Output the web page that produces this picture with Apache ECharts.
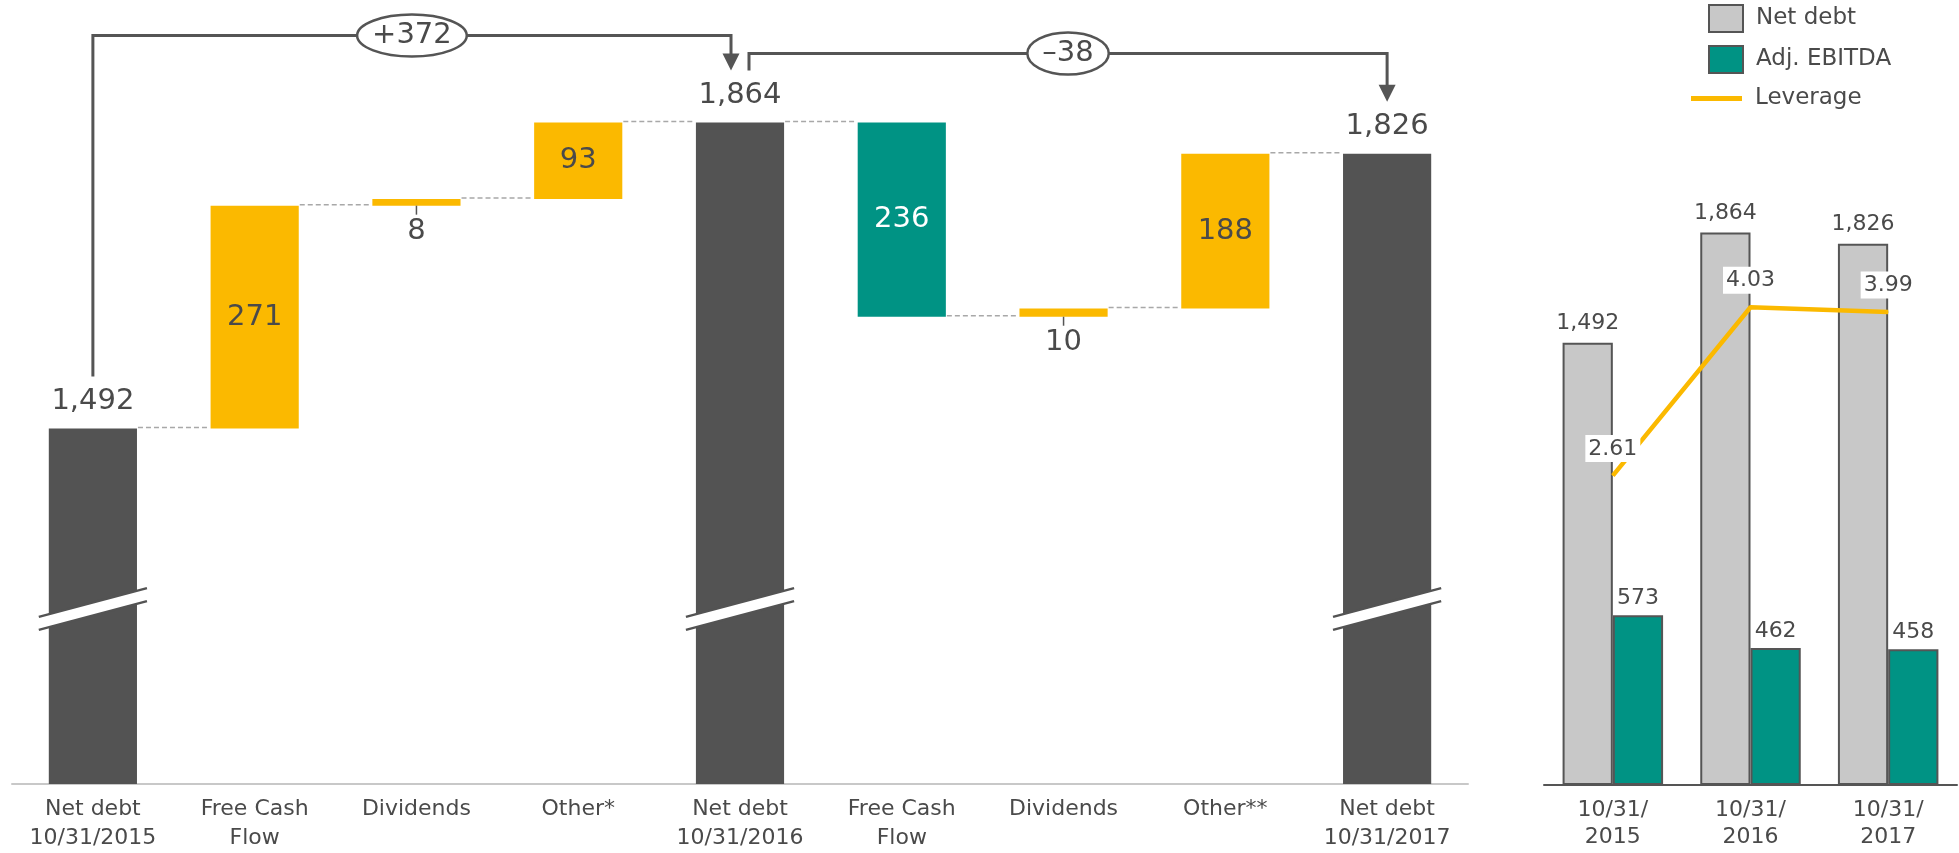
<!DOCTYPE html>
<html><head><meta charset="utf-8">
<script src="https://cdn.jsdelivr.net/npm/echarts@6/dist/echarts.min.js"></script>
<style>html,body{margin:0;padding:0;background:#fff}#c{width:1959px;height:853px}</style>
</head><body><div id="c"></div>
<script>
// ---------- data ----------
const categories = ['Net debt\n10/31/2015','Free Cash\nFlow','Dividends','Other*','Net debt\n10/31/2016','Free Cash\nFlow','Dividends','Other**','Net debt\n10/31/2017'];
const netDebtTotals = [1492, 1864, 1826];
const changesFY2016 = [271, 8, 93];
const changesFY2017 = [-236, 10, 188];
const periodChanges = ['+372', '–38'];

const summaryCategories = ['10/31/\n2015','10/31/\n2016','10/31/\n2017'];
const netDebt = [1492, 1864, 1826];
const adjEbitda = [573, 462, 458];
const leverage = [2.61, 4.03, 3.99];

// ---------- styles ----------
const DARK = '#535353', YELLOW = '#fbb900', TEAL = '#009384', TXT = '#4a4a4a', FONT = 'DejaVu Sans';
const AXIS_MIN = 1060, AXIS_MAX = 2013;
const BAR_FRAC = 0.545;

// ---------- derived waterfall ----------
const seq = [netDebtTotals[0], ...changesFY2016, netDebtTotals[1], ...changesFY2017, netDebtTotals[2]];
const isTotal = categories.map(c => c.indexOf('Net debt') === 0);
let run = 0;
const levels = [];
const wfData = seq.map((v, i) => {
  if (isTotal[i]) { run = v; levels.push(run); return [i, AXIS_MIN, v, 0, v]; }
  const s = run; run += v; levels.push(run);
  return [i, Math.min(s, run), Math.max(s, run), v > 0 ? 1 : 2, Math.abs(v)];
});
const connData = levels.slice(0, -1).map((l, i) => [i, l]);
const totalIdx = isTotal.map((t, i) => t ? i : -1).filter(i => i >= 0);
const breakData = totalIdx.map(i => [i, AXIS_MIN]);
const bracketData = [];
for (let k = 0; k < totalIdx.length - 1; k++) {
  bracketData.push([totalIdx[k], totalIdx[k + 1], netDebtTotals[k], netDebtTotals[k + 1]]);
}
const fmt = v => Number(v).toLocaleString('en-US');

const measure = (() => { const c = document.createElement('canvas').getContext('2d');
  return (t, f) => { c.font = f; return c.measureText(t).width; }; })();

function renderWaterfall(params, api) {
  const i = api.value(0), lo = api.value(1), hi = api.value(2), kind = api.value(3), lab = api.value(4);
  const bw = api.size([1, 0])[0] * BAR_FRAC;
  const pT = api.coord([i, hi]), pB = api.coord([i, lo]);
  const h = pB[1] - pT[1];
  const fill = kind === 0 ? DARK : (kind === 1 ? YELLOW : TEAL);
  const ch = [{ type: 'rect', shape: { x: pT[0] - bw / 2, y: pT[1], width: bw, height: h }, style: { fill } }];
  const ts = { fontFamily: FONT, fontSize: 29, fill: TXT, align: 'center', verticalAlign: 'middle' };
  if (kind === 0) {
    ch.push({ type: 'text', x: pT[0], y: pT[1] - 27, style: Object.assign({ text: fmt(lab) }, ts) });
  } else if (h < 30) {
    ch.push({ type: 'line', shape: { x1: pT[0], y1: pB[1], x2: pT[0], y2: pB[1] + 9 }, style: { stroke: '#555', lineWidth: 1.5 } });
    ch.push({ type: 'text', x: pT[0], y: pB[1] + 26, style: Object.assign({ text: fmt(lab) }, ts) });
  } else {
    ch.push({ type: 'text', x: pT[0], y: (pT[1] + pB[1]) / 2, style: Object.assign({ text: fmt(lab) }, ts, { fill: kind === 2 ? '#fff' : TXT }) });
  }
  return { type: 'group', children: ch };
}

function renderConnector(params, api) {
  const i = api.value(0), lvl = api.value(1);
  const bw = api.size([1, 0])[0] * BAR_FRAC;
  const a = api.coord([i, lvl]), b = api.coord([i + 1, lvl]);
  return { type: 'line', shape: { x1: a[0] + bw / 2 + 1, y1: a[1] - 1, x2: b[0] - bw / 2 - 1, y2: a[1] - 1 },
    style: { stroke: '#a8a8a8', lineWidth: 1.5, lineDash: [5, 3] } };
}

function renderBreak(params, api) {
  const i = api.value(0);
  const bw = api.size([1, 0])[0] * BAR_FRAC;
  const base = api.coord([i, api.value(1)]);
  const cx = base[0], yc = base[1] - 175, hw = bw / 2 + 10, k = 0.266, t = 6.5;
  const yl = yc + k * hw, yr = yc - k * hw;
  return { type: 'group', children: [
    { type: 'polygon', shape: { points: [[cx - hw, yl - t], [cx + hw, yr - t], [cx + hw, yr + t], [cx - hw, yl + t]] }, style: { fill: '#fff' } },
    { type: 'line', shape: { x1: cx - hw, y1: yl - t, x2: cx + hw, y2: yr - t }, style: { stroke: DARK, lineWidth: 2.5 } },
    { type: 'line', shape: { x1: cx - hw, y1: yl + t, x2: cx + hw, y2: yr + t }, style: { stroke: DARK, lineWidth: 2.5 } }
  ] };
}

function renderBracket(params, api) {
  const di = params.dataIndex, n = bracketData.length;
  const f = api.value(0), t = api.value(1);
  const pF = api.coord([f, api.value(2)]), pT = api.coord([t, api.value(3)]);
  const x1 = pF[0] + (di > 0 ? 9 : 0), x2 = pT[0] - (di < n - 1 ? 9 : 0);
  const yB = Math.min(pF[1], pT[1]) - (87 - 18 * di);
  const tip = pT[1] - 52, ah = 17, aw = 8.5;
  const text = periodChanges[di];
  const font = '29px "' + FONT + '"';
  const rx = measure(text, font) / 2 + 15, ry = 21, mx = (x1 + x2) / 2;
  const st = { stroke: '#555', lineWidth: 3, fill: null };
  return { type: 'group', children: [
    { type: 'polyline', shape: { points: [[x1, pF[1] - 52], [x1, yB], [x2, yB], [x2, tip - ah + 1]] }, style: st },
    { type: 'polygon', shape: { points: [[x2 - aw, tip - ah], [x2 + aw, tip - ah], [x2, tip]] }, style: { fill: '#555' } },
    { type: 'ellipse', shape: { cx: mx, cy: yB, rx, ry }, style: { fill: '#fff', stroke: '#555', lineWidth: 2.5 } },
    { type: 'text', x: mx, y: yB, style: { text, fontFamily: FONT, fontSize: 29, fill: TXT, align: 'center', verticalAlign: 'middle' } }
  ] };
}

const chart = echarts.init(document.getElementById('c'));
chart.setOption({
  animation: false,
  backgroundColor: '#fff',
  textStyle: { fontFamily: FONT },
  legend: [
    { data: ['Net debt', 'Adj. EBITDA'], orient: 'vertical', left: 1708, top: 4, padding: 0, itemWidth: 34, itemHeight: 27, itemGap: 12,
      icon: 'rect', textStyle: { fontFamily: FONT, fontSize: 23, color: TXT, padding: [0, 0, 0, 8] } },
    { data: [{ name: 'Leverage', icon: 'rect' }], orient: 'vertical', left: 1691, top: 87, padding: 0, itemWidth: 51, itemHeight: 5,
      textStyle: { fontFamily: FONT, fontSize: 23, color: TXT, padding: [0, 0, 0, 8] } }
  ],
  grid: [
    { left: 12, right: 491, top: 0, bottom: 68 },
    { left: 1544, right: 2, top: 44, bottom: 68 }
  ],
  xAxis: [
    { gridIndex: 0, type: 'category', data: categories,
      axisLine: { lineStyle: { color: '#c8c8c8', width: 2 } }, axisTick: { show: false },
      axisLabel: { interval: 0, fontFamily: FONT, fontSize: 22, lineHeight: 29, color: TXT, margin: 11 } },
    { gridIndex: 1, type: 'category', data: summaryCategories,
      axisLine: { lineStyle: { color: '#555', width: 2 } }, axisTick: { show: false },
      axisLabel: { interval: 0, fontFamily: FONT, fontSize: 22, lineHeight: 27, color: TXT, margin: 12 } }
  ],
  yAxis: [
    { gridIndex: 0, type: 'value', min: AXIS_MIN, max: AXIS_MAX, show: false },
    { gridIndex: 1, type: 'value', min: 0, max: 2500, show: false },
    { gridIndex: 1, type: 'value', min: 0, max: 6.25, show: false }
  ],
  series: [
    { type: 'custom', name: 'connectors', xAxisIndex: 0, yAxisIndex: 0, data: connData, renderItem: renderConnector, z: 1, silent: true },
    { type: 'custom', name: 'Net debt bridge', xAxisIndex: 0, yAxisIndex: 0, data: wfData, encode: { x: 0, y: [1, 2] }, renderItem: renderWaterfall, z: 2 },
    { type: 'custom', name: 'breaks', xAxisIndex: 0, yAxisIndex: 0, data: breakData, renderItem: renderBreak, z: 3, silent: true },
    { type: 'custom', name: 'brackets', xAxisIndex: 0, yAxisIndex: 0, data: bracketData, renderItem: renderBracket, z: 4, silent: true },
    { type: 'bar', name: 'Net debt', xAxisIndex: 1, yAxisIndex: 1, data: netDebt, barGap: '0%', barCategoryGap: '27%',
      itemStyle: { color: '#c8c8c8', borderColor: '#555', borderWidth: 2 },
      label: { show: true, position: 'top', distance: 8, fontFamily: FONT, fontSize: 22, color: TXT, formatter: p => fmt(p.value) } },
    { type: 'bar', name: 'Adj. EBITDA', xAxisIndex: 1, yAxisIndex: 1, data: adjEbitda,
      itemStyle: { color: TEAL, borderColor: '#555', borderWidth: 2 },
      label: { show: true, position: 'top', distance: 6, fontFamily: FONT, fontSize: 22, color: TXT, formatter: p => fmt(p.value) } },
    { type: 'line', name: 'Leverage', xAxisIndex: 1, yAxisIndex: 2, data: leverage, z: 5,
      symbol: 'circle', symbolSize: 1, itemStyle: { color: YELLOW }, lineStyle: { color: YELLOW, width: 4.5 },
      label: { show: true, position: 'top', distance: 13, fontFamily: FONT, fontSize: 22, color: TXT,
        backgroundColor: '#fff', padding: [3, 3, 2, 3], formatter: p => p.value.toFixed(2) } }
  ]
});
</script></body></html>
